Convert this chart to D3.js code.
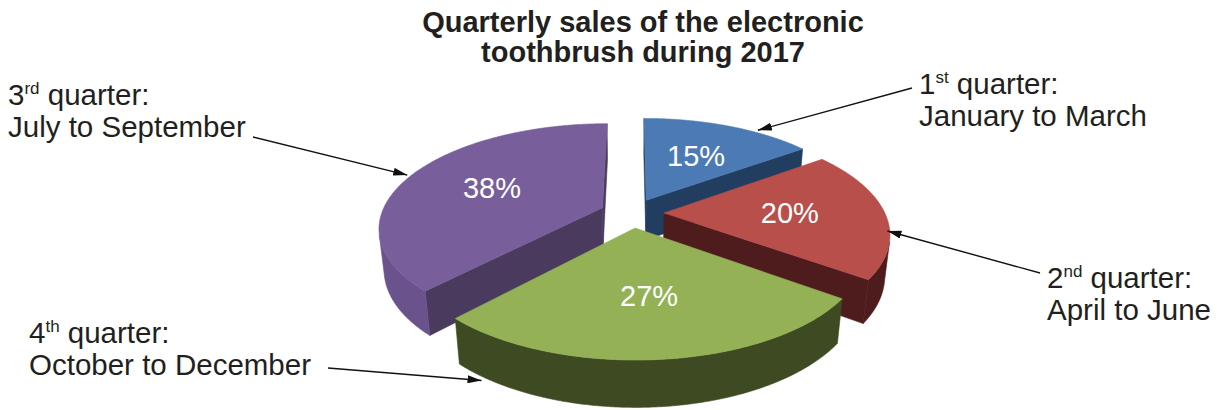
<!DOCTYPE html>
<html>
<head>
<meta charset="utf-8">
<script src="https://cdn.jsdelivr.net/npm/d3@7"></script>
<style>
  body { margin: 0; background: #fff; }
  text { font-family: "Liberation Sans", Arial, sans-serif; }
</style>
</head>
<body>
<svg id="chart"></svg>
<script>
// slices in the order they run clockwise from 12 o'clock
const sliceNames = ['Q1', 'Q2', 'Q4', 'Q3'];
const sliceShares = [15, 20, 27, 38];
const ordinals = ['1', '2', '4', '3'];
const ordinalSuffixes = ['st', 'nd', 'th', 'rd'];
const periods = ['January to March', 'April to June', 'October to December', 'July to September'];
const titleLines = ['Quarterly sales of the electronic', 'toothbrush during 2017'];

const topColors = ['#4c7ab4', '#b84f4a', '#94b155', '#785f9b'];
const wallColors = ['#213d5f', '#4e1c1d', '#3e4a22', '#6a528d'];
const cutColors = ['#213d5f', '#4e1c1d', '#3e4a22', '#4a3a5e'];

// callout layout: text position, line start, and where on the slice the arrow points
const callouts = [
  { x: 919, y: 94, from: [912, 88], angle: 36, r: 1.03, z: 0 },
  { x: 1047, y: 288, from: [1040, 273], angle: 100, r: 0.99, z: 0 },
  { x: 29, y: 343, from: [328, 368], angle: 215, r: 1.02, z: -1 },
  { x: 8, y: 105, from: [253, 137], angle: 290, r: 1.02, z: 0 }
];

const width = 1219, height = 410;
const cx = 632, cy = 213;
const tilt = 27.3 * Math.PI / 180;
const camDist = 4.8, focal = 1060;
const thickness = 0.21, explode = 0.145;
const sT = Math.sin(tilt), cT = Math.cos(tilt);
const cam = [0, -camDist * cT, camDist * sT];

// simple perspective camera looking down on the pie
function project([x, y, z]) {
  const rx = x - cam[0], ry = y - cam[1], rz = z - cam[2];
  const depth = ry * cT - rz * sT;
  const up = ry * sT + rz * cT;
  return [cx + focal * rx / depth, cy - focal * up / depth];
}
const faces = (n, p) => n[0] * (cam[0] - p[0]) + n[1] * (cam[1] - p[1]) + n[2] * (cam[2] - p[2]) > 0;

const svg = d3.select('#chart')
  .attr('width', width)
  .attr('height', height);

svg.append('defs').append('marker')
  .attr('id', 'arrow')
  .attr('viewBox', '0 0 14 8')
  .attr('refX', 14).attr('refY', 4)
  .attr('markerUnits', 'userSpaceOnUse')
  .attr('markerWidth', 14).attr('markerHeight', 8)
  .attr('orient', 'auto')
  .append('path')
  .attr('d', 'M0,0L14,4L0,8Z')
  .attr('fill', '#111');

const pie = d3.pie().sort(null).value(d => d);
const arcs = pie(sliceShares).map((a, i) => {
  const mid = (a.startAngle + a.endAngle) / 2;
  return { ...a, i, mid, ox: explode * Math.sin(mid), oy: explode * Math.cos(mid) };
});

const line = d3.line();
const rim = (a, t, z, r = 1) => [a.ox + r * Math.sin(t), a.oy + r * Math.cos(t), z];
const steps = a => d3.range(0, 241).map(k => a.startAngle + (a.endAngle - a.startAngle) * k / 240);

const g = svg.append('g');

// back slices first
arcs.slice().sort((p, q) => q.oy - p.oy).forEach(a => {
  const apexTop = [a.ox, a.oy, 0], apexBot = [a.ox, a.oy, -thickness];
  const sg = g.append('g');

  // cut faces
  [[a.startAngle, [-Math.cos(a.startAngle), Math.sin(a.startAngle), 0]],
   [a.endAngle, [Math.cos(a.endAngle), -Math.sin(a.endAngle), 0]]].forEach(([t, n]) => {
    if (!faces(n, apexTop)) return;
    const pts = [apexTop, rim(a, t, 0), rim(a, t, -thickness), apexBot].map(project);
    sg.append('path').attr('d', line(pts) + 'Z')
      .attr('fill', cutColors[a.i]).attr('stroke', cutColors[a.i]).attr('stroke-width', 0.6);
  });

  // outer wall
  const vis = steps(a).filter(t => faces([Math.sin(t), Math.cos(t), 0], rim(a, t, 0)));
  if (vis.length > 1) {
    const pts = vis.map(t => project(rim(a, t, 0)))
      .concat(vis.slice().reverse().map(t => project(rim(a, t, -thickness))));
    sg.append('path').attr('d', line(pts) + 'Z')
      .attr('fill', wallColors[a.i]).attr('stroke', wallColors[a.i]).attr('stroke-width', 0.6);
  }

  // top
  const topPts = [apexTop].concat(steps(a).map(t => rim(a, t, 0))).map(project);
  sg.append('path').attr('d', line(topPts) + 'Z')
    .attr('fill', topColors[a.i]).attr('stroke', topColors[a.i]).attr('stroke-width', 0.6);
});

// percentages
arcs.forEach(a => {
  const [x, y] = project(rim(a, a.mid, 0, 0.57));
  svg.append('text')
    .attr('x', x).attr('y', y).attr('dy', '0.36em')
    .attr('text-anchor', 'middle')
    .attr('font-size', 29).attr('fill', '#fff')
    .text(a.data + '%');
});

// callouts
arcs.forEach(a => {
  const c = callouts[a.i];
  const tip = project(rim(a, c.angle * Math.PI / 180, c.z * thickness, c.r));
  svg.append('line')
    .attr('x1', c.from[0]).attr('y1', c.from[1])
    .attr('x2', tip[0]).attr('y2', tip[1])
    .attr('stroke', '#111').attr('stroke-width', 1.4)
    .attr('marker-end', 'url(#arrow)');

  const t = svg.append('text').attr('font-size', 29.5).attr('fill', '#231f20');
  const l1 = t.append('tspan').attr('x', c.x).attr('y', c.y);
  l1.append('tspan').text(ordinals[a.i]);
  l1.append('tspan').attr('font-size', 17).attr('dy', -11).text(ordinalSuffixes[a.i]);
  l1.append('tspan').attr('dy', 11).text(' quarter:');
  t.append('tspan').attr('x', c.x).attr('y', c.y + 32).text(periods[a.i]);
});

// title
svg.append('g').selectAll('text')
  .data(titleLines)
  .join('text')
  .attr('x', 643)
  .attr('y', (d, i) => 32 + i * 30)
  .attr('text-anchor', 'middle')
  .attr('font-size', 29)
  .attr('font-weight', 'bold')
  .attr('fill', '#231f20')
  .text(d => d);
</script>
</body>
</html>
